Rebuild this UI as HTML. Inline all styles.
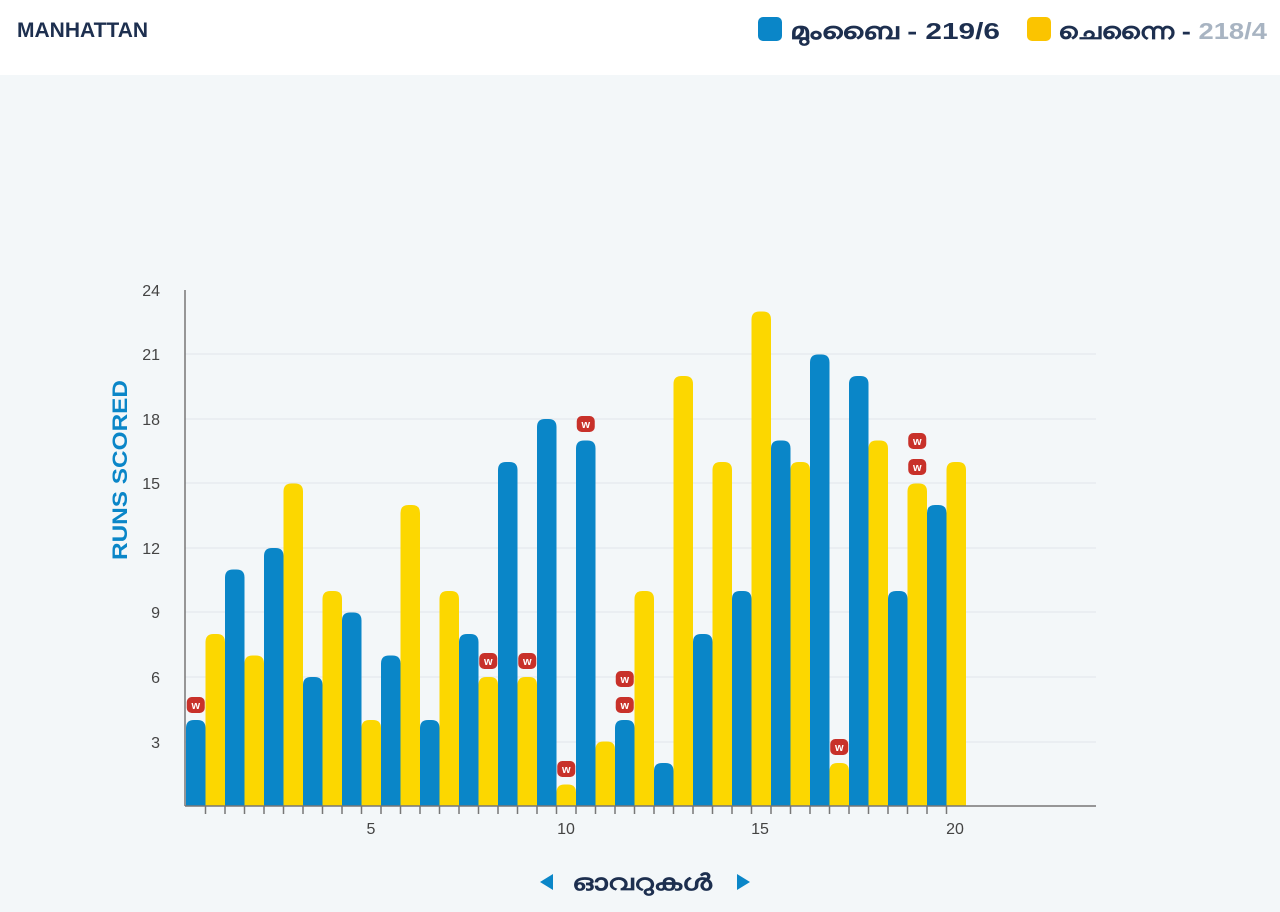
<!DOCTYPE html>
<html><head><meta charset="utf-8"><style>
body{margin:0;width:1280px;height:912px;background:#f3f7f9;font-family:"Liberation Sans","Noto Sans CJK SC",sans-serif;overflow:hidden}
.hdr{position:absolute;left:0;top:0;width:1280px;height:75px;background:#fff}
</style></head><body>
<div class="hdr"></div>
<svg width="1280" height="912" style="position:absolute;left:0;top:0" font-family="Liberation Sans, sans-serif">
<text x="17" y="37" font-size="21" font-weight="bold" fill="#1d2f4f">MANHATTAN</text>
<rect x="758" y="17" width="24" height="24" rx="5" fill="#0a86c8"/>
<text x="790" y="39" font-size="23" font-weight="bold" fill="#1d2f4f" textLength="210" lengthAdjust="spacingAndGlyphs">മുംബൈ - 219/6</text>
<rect x="1027" y="17" width="24" height="24" rx="5" fill="#fbc400"/>
<text x="1058" y="39" font-size="23" font-weight="bold" fill="#1d2f4f" textLength="209" lengthAdjust="spacingAndGlyphs">ചെന്നൈ - <tspan fill="#a8b4c2">218/4</tspan></text>
<g stroke="#e1e6ea" stroke-width="1">
<line x1="185" x2="1096" y1="354" y2="354"/><line x1="185" x2="1096" y1="419" y2="419"/><line x1="185" x2="1096" y1="483" y2="483"/><line x1="185" x2="1096" y1="548" y2="548"/><line x1="185" x2="1096" y1="612" y2="612"/><line x1="185" x2="1096" y1="677" y2="677"/><line x1="185" x2="1096" y1="742" y2="742"/>
</g>
<g font-size="16" fill="#444" text-anchor="end">
<text x="160" y="296">24</text><text x="160" y="360">21</text><text x="160" y="425">18</text><text x="160" y="489">15</text><text x="160" y="554">12</text><text x="160" y="618">9</text><text x="160" y="683">6</text><text x="160" y="748">3</text>
</g>
<text transform="translate(127,470) rotate(-90)" font-size="21" font-weight="bold" fill="#0a86c8" text-anchor="middle" textLength="180" lengthAdjust="spacingAndGlyphs">RUNS SCORED</text>
<g id="bars"></g>
<line x1="185" y1="290" x2="185" y2="806" stroke="#777" stroke-width="1.5"/>
<line x1="185" y1="806" x2="1096" y2="806" stroke="#777" stroke-width="1.5"/>
<g id="ticks" stroke="#777" stroke-width="1.5"></g>
<g font-size="16" fill="#444" text-anchor="middle">
<text x="371" y="834">5</text><text x="566" y="834">10</text><text x="760" y="834">15</text><text x="955" y="834">20</text>
</g>
<polygon points="540,882 553,874 553,890" fill="#0a86c8"/>
<polygon points="750,882 737,874 737,890" fill="#0a86c8"/>
<text x="572" y="890" font-size="22" font-weight="bold" fill="#1d2f4f" textLength="140" lengthAdjust="spacingAndGlyphs">ഓവറുകൾ</text>
</svg>
<script>
var b=[4,11,12,6,9,7,4,8,16,18,17,4,2,8,10,17,21,20,10,14];
var y=[8,7,15,10,4,14,10,6,6,1,3,10,20,16,23,16,2,17,15,16];
var s='',u=21.5,B=806,w=19.5;
function bar(x,v,c){var h=v*u,t=B-h;return '<path d="M'+x+' '+B+'V'+(t+8)+'Q'+x+' '+t+' '+(x+8)+' '+t+'H'+(x+w-8)+'Q'+(x+w)+' '+t+' '+(x+w)+' '+(t+8)+'V'+B+'Z" fill="'+c+'"/>';}
for(var i=0;i<20;i++){var x=186+i*39;s+=bar(x,b[i],'#0a86c8');s+=bar(x+w,y[i],'#fcd700');}
var W=[[1,0,705],[8,1,661],[9,1,661],[10,1,769],[11,0,424],[12,0,705],[12,0,679],[17,1,747],[19,1,467],[19,1,441]];
W.forEach(function(a){var cx=186+(a[0]-1)*39+(a[1]?w:0)+w/2;s+='<rect x="'+(cx-9)+'" y="'+(a[2]-8)+'" width="18" height="16" rx="5" fill="#c8312a"/><text x="'+cx+'" y="'+(a[2]+4)+'" font-size="11" font-weight="bold" fill="#fff" text-anchor="middle">w</text>';});
document.getElementById('bars').innerHTML=s;
var t='';for(var k=1;k<40;k++){var xx=186+k*19.5;t+='<line x1="'+xx+'" x2="'+xx+'" y1="806" y2="814"/>';}
document.getElementById('ticks').innerHTML=t;
</script>
</body></html>
